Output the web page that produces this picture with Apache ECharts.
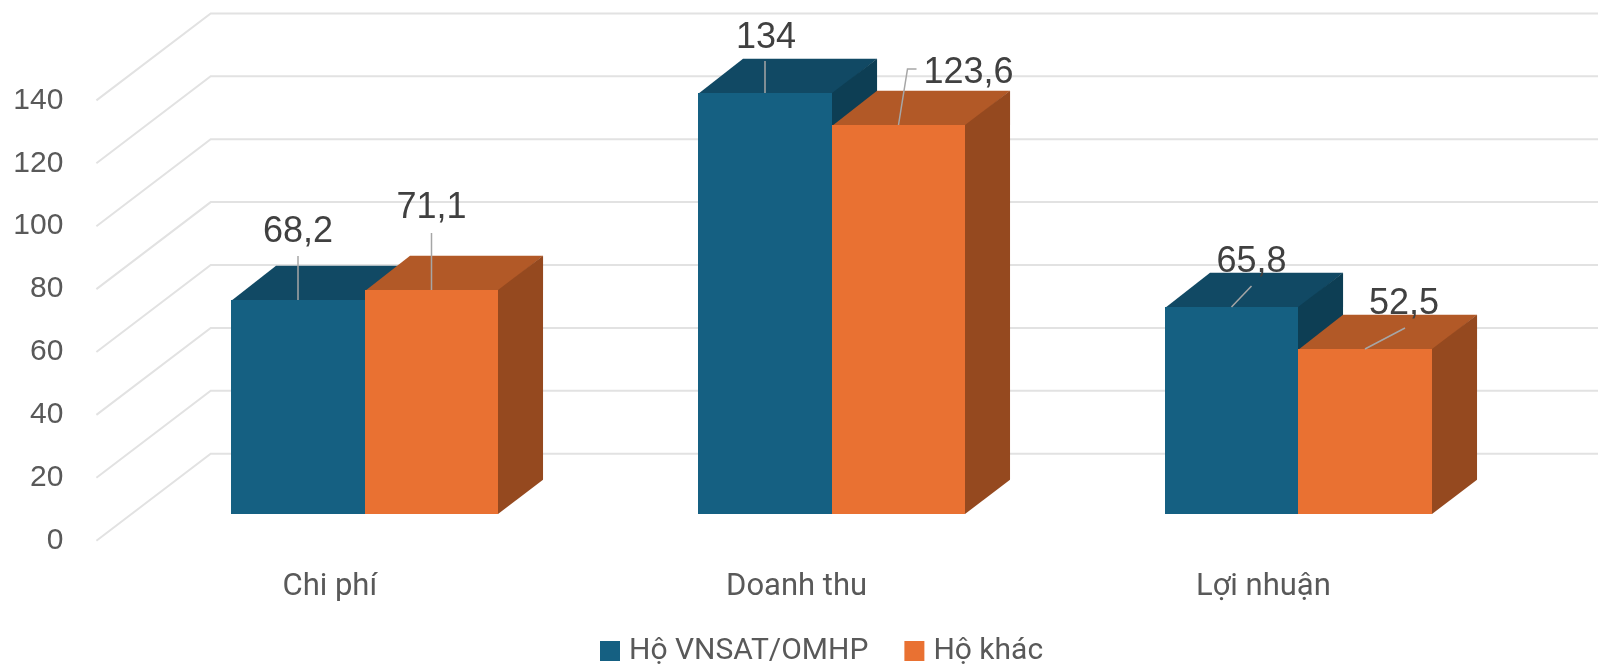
<!DOCTYPE html>
<html>
<head>
<meta charset="utf-8">
<style>html,body{margin:0;padding:0;background:#fff}#chart{width:1598px;height:664px}</style>
<script src="https://cdn.jsdelivr.net/npm/echarts@6/dist/echarts.min.js"></script>
</head>
<body>
<div id="chart"></div>
<script>
// Chart data
const categories = ['Chi phí', 'Doanh thu', 'Lợi nhuận'];
const seriesNames = ['Hộ VNSAT/OMHP', 'Hộ khác'];
const vnsatValues = [68.2, 134, 65.8];
const otherValues = [71.1, 123.6, 52.5];
const yTicks = [0, 20, 40, 60, 80, 100, 120, 140];

// Oblique projection of the 3D box: the floor runs back along this vector
const FLOOR = [114.3, -87];
const BAR_FRONT = 0.307;   // share of the floor depth in front of the bars
const BAR_DEPTH = 0.394;   // share of the floor depth taken by the bars
const BAR_SHARE = 0.286;   // bar width as a share of the category band

const vnsatFaces = { front: '#156082', top: '#114964', side: '#0d3e54' };
const otherFaces = { front: '#E97132', top: '#B25927', side: '#95491f' };

// Data label placement relative to the centre of each bar's front top edge
const vnsatCallouts = [
  { text: [0, -68], line: [[0, -44], [0, 0]] },
  { text: [1, -55], line: [[0, -32], [0, 0]] },
  { text: [20, -45], line: [[20, -21], [0, 0]] }
];
const otherCallouts = [
  { text: [0, -82], line: [[0, -57], [0, 0]] },
  { text: [70, -52], line: [[18, -56], [9, -56], [0, 0]] },
  { text: [39, -45], line: [[40, -21], [0, 0]] }
];

function toRows(values) {
  return values.map((v, i) => [i, v]);
}

function boxSeries(name, values, seriesIndex, faces, callouts) {
  return {
    name,
    type: 'custom',
    coordinateSystem: 'cartesian2d',
    clip: false,
    silent: true,
    itemStyle: { color: faces.front },
    encode: { x: 0, y: 1 },
    data: toRows(values),
    renderItem(params, api) {
      const i = api.value(0);
      const v = api.value(1);
      const band = api.size([1, 0])[0];
      const w = band * BAR_SHARE;
      const ox = FLOOR[0] * BAR_FRONT, oy = FLOOR[1] * BAR_FRONT;
      const dx = FLOOR[0] * BAR_DEPTH, dy = FLOOR[1] * BAR_DEPTH;
      const top = api.coord([i, v]);
      const base = api.coord([i, 0]);
      const x0 = Math.round(top[0] - w + seriesIndex * w + ox);
      const x1 = Math.round(top[0] + seriesIndex * w + ox);
      const yT = Math.round(top[1] + oy);
      const yB = Math.round(base[1] + oy);
      const cx = (x0 + x1) / 2;
      const c = callouts[i];
      return {
        type: 'group',
        children: [
          { type: 'polygon', shape: { points: [[x0, yT + 1], [x1 + 1, yT + 1], [x1 + dx, yT + dy], [x0 + dx, yT + dy]] }, style: { fill: faces.top }, z2: 1 },
          { type: 'polygon', shape: { points: [[x1, yT], [x1 + dx, yT + dy], [x1 + dx, yB + dy], [x1, yB]] }, style: { fill: faces.side }, z2: 1 },
          { type: 'rect', shape: { x: x0, y: yT, width: x1 - x0, height: yB - yT }, style: { fill: faces.front }, z2: 2 },
          { type: 'polyline', shape: { points: c.line.map(p => [cx + p[0], yT + p[1]]) }, style: { fill: 'none', stroke: '#a6a6a6', lineWidth: 1.5 }, z2: 50 },
          { type: 'text', style: { text: String(v).replace('.', ','), x: cx + c.text[0], y: yT + c.text[1], align: 'center', verticalAlign: 'middle', fontFamily: 'Liberation Sans', fontSize: 36, fill: '#404040' }, z2: 100 }
        ]
      };
    }
  };
}

const wallSeries = {
  type: 'custom',
  coordinateSystem: 'cartesian2d',
  clip: false,
  silent: true,
  z: 1,
  encode: { x: 0, y: 1 },
  data: yTicks.map(t => [0, t]),
  renderItem(params, api) {
    const y = api.coord([0, api.value(1)])[1];
    const x = params.coordSys.x;
    const bx = x + FLOOR[0], by = y + FLOOR[1];
    return {
      type: 'polyline',
      shape: { points: [[x, y], [bx, by], [x + params.coordSys.width + FLOOR[0], by]] },
      style: { fill: 'none', stroke: '#e2e2e2', lineWidth: 2 }
    };
  }
};

const chart = echarts.init(document.getElementById('chart'), null, { renderer: 'canvas' });
chart.setOption({
  animation: false,
  backgroundColor: '#fff',
  textStyle: { fontFamily: 'Roboto' },
  grid: { left: 96.4, top: 100.4, width: 1400.4, height: 440.3, containLabel: false },
  xAxis: {
    type: 'category',
    data: categories,
    axisLine: { show: false },
    axisTick: { show: false },
    axisLabel: { fontSize: 31, color: '#595959', margin: 31, fontFamily: 'Roboto' }
  },
  yAxis: {
    type: 'value',
    min: 0,
    max: 140,
    interval: 20,
    axisLine: { show: false },
    axisTick: { show: false },
    splitLine: { show: false },
    axisLabel: { fontSize: 30, color: '#595959', margin: 33, padding: [2, 0, 0, 0], fontFamily: 'Liberation Sans' }
  },
  legend: {
    data: seriesNames,
    left: 600,
    top: 636,
    icon: 'rect',
    itemWidth: 20,
    itemHeight: 20,
    itemGap: 36,
    selectedMode: false,
    padding: 0,
    textStyle: { fontSize: 30, color: '#595959', fontFamily: 'Roboto', padding: [0, 0, 0, 4] }
  },
  series: [
    wallSeries,
    boxSeries(seriesNames[0], vnsatValues, 0, vnsatFaces, vnsatCallouts),
    boxSeries(seriesNames[1], otherValues, 1, otherFaces, otherCallouts)
  ]
});
</script>
</body>
</html>
